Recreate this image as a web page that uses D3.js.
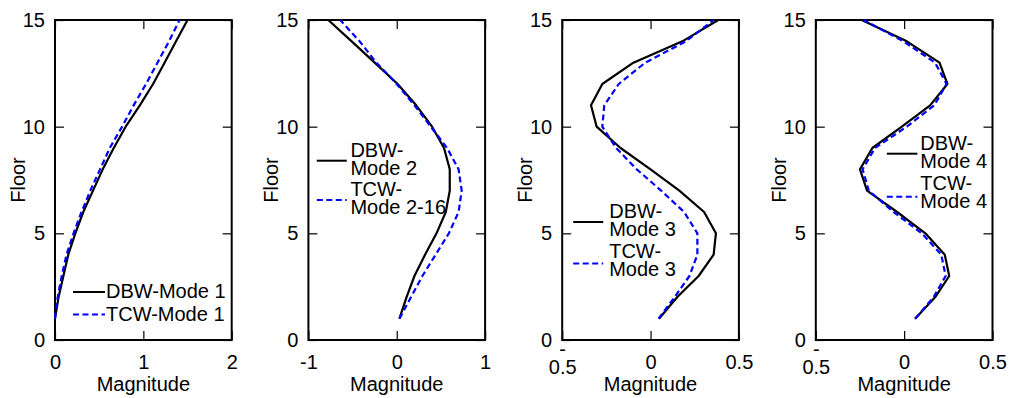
<!DOCTYPE html>
<html>
<head>
<meta charset="utf-8">
<script src="https://cdn.jsdelivr.net/npm/d3@7"></script>
<style>
  body { margin: 0; background: #fff; }
  svg { display: block; font-family: "Liberation Sans", Arial, sans-serif; }
</style>
</head>
<body>
<svg id="chart" width="1009" height="398"></svg>
<script>
// floors and mode shape magnitudes
const floors = [1, 2, 3, 4, 5, 6, 7, 8, 9, 10, 11, 12, 13, 14, 15];

const dbw1 = [0, 0.04, 0.095, 0.15, 0.23, 0.32, 0.43, 0.54, 0.665, 0.80, 0.96, 1.11, 1.24, 1.37, 1.50];
const tcw1 = [0, 0.03, 0.076, 0.13, 0.21, 0.30, 0.40, 0.51, 0.62, 0.76, 0.89, 1.03, 1.16, 1.29, 1.41];

const dbw2 = [0.03, 0.11, 0.20, 0.32, 0.45, 0.555, 0.60, 0.60, 0.535, 0.40, 0.22, 0.01, -0.25, -0.51, -0.775];
const tcw2 = [0.03, 0.16, 0.29, 0.44, 0.59, 0.70, 0.735, 0.70, 0.57, 0.385, 0.20, 0.0, -0.23, -0.42, -0.64];

const dbw3 = [0.048, 0.15, 0.272, 0.357, 0.37, 0.303, 0.163, 0.0, -0.17, -0.305, -0.337, -0.273, -0.097, 0.18, 0.383];
const tcw3 = [0.045, 0.135, 0.22, 0.265, 0.265, 0.19, 0.06, -0.078, -0.195, -0.273, -0.262, -0.18, -0.03, 0.20, 0.357];

const dbw4 = [0.062, 0.175, 0.255, 0.23, 0.12, -0.04, -0.21, -0.25, -0.18, -0.013, 0.147, 0.245, 0.20, 0.015, -0.24];
const tcw4 = [0.062, 0.166, 0.235, 0.21, 0.10, -0.06, -0.20, -0.235, -0.165, 0.015, 0.17, 0.24, 0.175, -0.004, -0.23];

const xDomains = [[0, 2], [-1, 1], [-0.5, 0.5], [-0.5, 0.5]];
const xTickValues = [[0, 1, 2], [-1, 0, 1], [-0.5, 0, 0.5], [-0.5, 0, 0.5]];
const yTickValues = [0, 5, 10, 15];

const dbwLabels = [["DBW-Mode 1"], ["DBW-", "Mode 2"], ["DBW-", "Mode 3"], ["DBW-", "Mode 4"]];
const tcwLabels = [["TCW-Mode 1"], ["TCW-", "Mode 2-16"], ["TCW-", "Mode 3"], ["TCW-", "Mode 4"]];

const dbwSeries = [dbw1, dbw2, dbw3, dbw4];
const tcwSeries = [tcw1, tcw2, tcw3, tcw4];

const svg = d3.select("#chart");
const panelLeft = [55, 308.4, 562.2, 815.8];
const panelW = 176.7, plotTop = 20, plotBottom = 340;
const fontSize = 20;

// legend placement inside each panel (pixels from panel left)
const legendPos = [
  { x0: 18, x1: 50, tx: 51, rows: [{ ly: 292, base: 298 }, { ly: 314.5, base: 321 }] },
  { x0: 8.4, x1: 38.4, tx: 42, rows: [{ ly: 160.7, base: 157 }, { ly: 200, base: 196 }] },
  { x0: 11, x1: 41, tx: 47, rows: [{ ly: 222, base: 218.3 }, { ly: 263.5, base: 258.3 }] },
  { x0: 71, x1: 101.6, tx: 104.5, rows: [{ ly: 153.7, base: 150 }, { ly: 196.7, base: 189.5 }] }
];

const styles = [
  { stroke: "#000", dash: null },
  { stroke: "#0000ff", dash: "6,3.5" }
];

panelLeft.forEach((L, i) => {
  const g = svg.append("g").attr("transform", `translate(${L},0)`);

  const x = d3.scaleLinear().domain(xDomains[i]).range([0, panelW]);
  const y = d3.scaleLinear().domain([0, 15]).range([plotBottom, plotTop]);

  const fmt = d => String(d);

  const styleAxis = a => {
    a.select(".domain").remove();
    a.attr("font-size", fontSize).attr("font-family", null);
    a.selectAll(".tick line").attr("stroke-width", 1.2);
    a.selectAll(".tick text").attr("fill", "#000");
  };

  // bottom
  const xb = g.append("g").attr("transform", `translate(0,${plotBottom})`)
    .call(d3.axisBottom(x).tickValues(xTickValues[i]).tickSize(-9).tickSizeOuter(0).tickPadding(15).tickFormat(fmt))
    .call(styleAxis);

  // wrapped "-0.5" labels on the narrow panels
  if (i >= 2) {
    xb.selectAll(".tick text").filter(d => d < 0).each(function () {
      const t = d3.select(this).text(null).attr("dy", null).attr("y", null);
      t.append("tspan").attr("x", 0).attr("y", 15.5).text("-");
      t.append("tspan").attr("x", 0).attr("y", 33.5).text("0.5");
    });
  }

  // top (mirror ticks)
  g.append("g").attr("transform", `translate(0,${plotTop})`)
    .call(d3.axisTop(x).tickValues(xTickValues[i]).tickSize(-9).tickSizeOuter(0).tickFormat(""))
    .call(styleAxis);

  // left
  g.append("g")
    .call(d3.axisLeft(y).tickValues(yTickValues).tickSize(-9).tickSizeOuter(0).tickPadding(10).tickFormat(fmt))
    .call(styleAxis);

  // right (mirror ticks)
  g.append("g").attr("transform", `translate(${panelW},0)`)
    .call(d3.axisRight(y).tickValues(yTickValues).tickSize(-9).tickSizeOuter(0).tickFormat(""))
    .call(styleAxis);

  // frame
  g.append("rect")
    .attr("x", 0).attr("y", plotTop)
    .attr("width", panelW).attr("height", plotBottom - plotTop)
    .attr("fill", "none").attr("stroke", "#000").attr("stroke-width", 2);

  const line = d3.line()
    .x(d => x(d.v))
    .y(d => y(d.f));

  [dbwSeries[i], tcwSeries[i]].forEach((vals, k) => {
    const pts = floors.map((f, j) => ({ f: f, v: vals[j] }));
    g.append("path")
      .datum(pts)
      .attr("d", line)
      .attr("fill", "none")
      .attr("stroke", styles[k].stroke)
      .attr("stroke-width", 2.2)
      .attr("stroke-linejoin", "round")
      .attr("stroke-dasharray", styles[k].dash);
  });

  // legend
  const lp = legendPos[i];
  [dbwLabels[i], tcwLabels[i]].forEach((lines, k) => {
    const row = lp.rows[k];
    g.append("line")
      .attr("x1", lp.x0).attr("x2", lp.x1)
      .attr("y1", row.ly).attr("y2", row.ly)
      .attr("stroke", styles[k].stroke)
      .attr("stroke-width", 2)
      .attr("stroke-dasharray", styles[k].dash);
    const t = g.append("text")
      .attr("font-size", fontSize)
      .attr("fill", "#000");
    lines.forEach((s, n) => {
      t.append("tspan")
        .attr("x", lp.tx)
        .attr("y", row.base + n * 18)
        .text(s);
    });
  });

  // axis titles
  g.append("text")
    .attr("x", panelW / 2).attr("y", 391)
    .attr("text-anchor", "middle")
    .attr("font-size", fontSize)
    .text("Magnitude");

  g.append("text")
    .attr("transform", `translate(-30,${(plotTop + plotBottom) / 2}) rotate(-90)`)
    .attr("text-anchor", "middle")
    .attr("font-size", fontSize)
    .text("Floor");
});
</script>
</body>
</html>
